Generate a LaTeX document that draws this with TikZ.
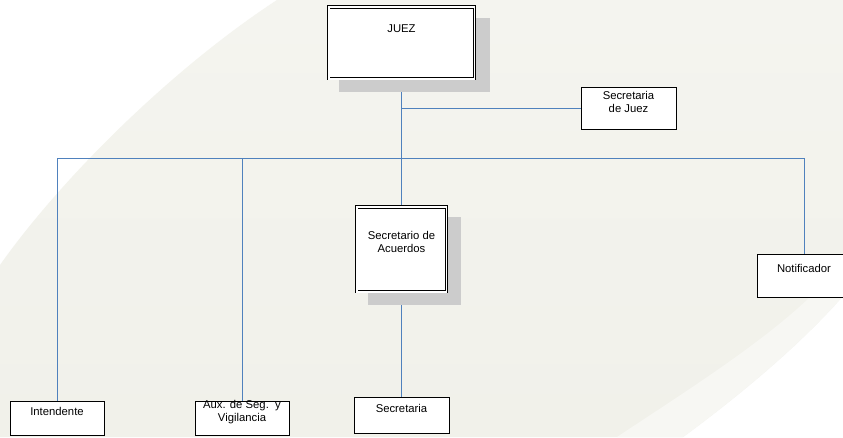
\documentclass[tikz,border=0pt]{standalone}
\usepackage{fontspec}
\setmainfont{Liberation Sans}
\usetikzlibrary{positioning,shadows,backgrounds}
\definecolor{linkblue}{RGB}{79,129,189}
\definecolor{shadowgray}{RGB}{204,204,204}
\definecolor{bgtop}{RGB}{244,244,239}
\definecolor{bgmid}{RGB}{251,251,249}
\definecolor{bgbot}{RGB}{241,241,234}
\definecolor{bgband}{RGB}{247,247,243}
\newcommand{\boxfont}{\fontsize{11.3}{13}\selectfont}
\tikzset{
    box/.style={draw, line width=1pt, fill=white, font=\boxfont, align=center, anchor=north, inner sep=0pt},
    dbox/.style={box, double, double distance=1.6pt, line width=0.9pt,
        drop shadow={shadow xshift=12.5pt, shadow yshift=-11.5pt, shadow scale=1.04, fill=shadowgray, opacity=1}},
    link/.style={draw=linkblue, line width=1pt},
}

\begin{document}
\begin{tikzpicture}[x=1pt, y=-1pt]
    \useasboundingbox (0,0) rectangle (843,437);
    \clip (0,0) rectangle (843,437);
    \begin{pgfonlayer}{background}
        \fill[white] (0,0) rectangle (843,437);
        \shade[top color=bgtop, middle color=bgmid, bottom color=bgbot]
            (277,0) .. controls (170,70) and (60,180) .. (0,265) -- (0,437) -- (683,437)
            .. controls (740,395) and (800,345) .. (843,296) -- (843,0) -- cycle;
        \fill[bgband] (617,437) .. controls (680,395) and (760,345) .. (810,297) -- (843,265)
            -- (843,296) .. controls (800,345) and (740,395) .. (683,437) -- cycle;
    \end{pgfonlayer}

    % boxes
    \node[dbox, minimum width=145.6pt, text height=25.3pt, text depth=46.3pt] (juez) at (401.5,6.7) {JUEZ};
    \node[box, minimum width=95pt, text height=25.3pt, text depth=16.7pt] (sec-juez) at (628.5,87) {Secretaria\\de Juez};
    \node[dbox, minimum width=89.6pt, text height=45.8pt, text depth=38.8pt] (sec-acu) at (401.5,206.7) {Secretario de\\Acuerdos};
    \node[box, minimum width=94pt, text height=18.3pt, text depth=24.7pt] (notif) at (804,254) {Notificador};
    \node[box, minimum width=94pt, text height=14pt, text depth=20pt] (intend) at (57,401) {Intendente};
    \node[box, minimum width=94pt, text height=20.3pt, text depth=13.7pt] (aux) at (242,401) {Aux. de Seg.\ \ y\\Vigilancia};
    \node[box, minimum width=95pt, text height=15pt, text depth=21pt] (secre) at (401.5,397) {Secretaria};

    % lines
    \begin{pgfonlayer}{background}
        \coordinate (bar) at (401.5,158.5);
        \draw[link] (juez.south) -- (sec-acu.north);
        \draw[link] (juez.south |- sec-juez.west) -- (sec-juez.west);
        \foreach \n in {intend,aux,notif} \draw[link] (\n.north) |- (bar);
        \draw[link] (sec-acu.south) -- (secre.north);
    \end{pgfonlayer}
\end{tikzpicture}
\end{document}
